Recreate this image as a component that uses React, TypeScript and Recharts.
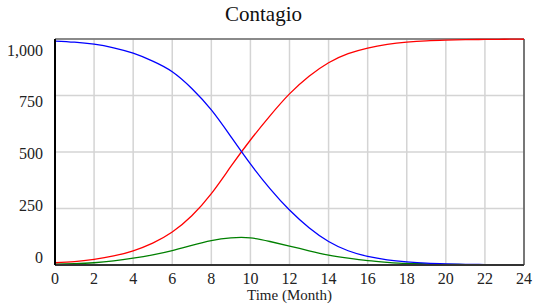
import React from "react";
import {
  LineChart,
  Line,
  XAxis,
  YAxis,
  CartesianGrid,
  ReferenceLine,
} from "recharts";

const months = [0, 1, 2, 3, 4, 5, 6, 7, 8, 9, 10, 11, 12, 13, 14, 15, 16, 17, 18, 19, 20, 21, 22, 23, 24];
// blue: susceptible population
const susceptible = [991, 986, 977, 961, 937, 902, 855, 781, 686, 568, 447, 338, 243, 165, 104, 63, 38, 23, 14, 8, 5, 3, 2, 1, 1];
// red: infected (cumulative)
const infected = [10, 15, 25, 40, 63, 97, 146, 218, 316, 436, 553, 660, 757, 835, 895, 935, 960, 976, 986, 992, 995, 997, 998, 999, 999];
// green: contagion rate
const contagion = [4, 6, 10, 18, 30, 45, 64, 87, 108, 120, 120, 104, 84, 63, 44, 30, 19, 12, 7, 5, 3, 2, 1, 1, 0];

const xTicks = [0, 2, 4, 6, 8, 10, 12, 14, 16, 18, 20, 22, 24];
const yTicks = [0, 250, 500, 750, 1000];

const data = months.map((m, i) => ({
  t: m,
  s: susceptible[i],
  inf: infected[i],
  c: contagion[i],
}));

const FONT = "'Liberation Serif', 'DejaVu Serif', 'Times New Roman', serif";
const PLOT_TOP = 39;
const PLOT_BOTTOM = 265;
const PLOT_LEFT = 55;
const PLOT_RIGHT = 524;

// Vensim-style: labels spread slightly inside the plot box
function YTick(props: any) {
  const { x, y, payload } = props;
  const ratio = (y - PLOT_TOP) / (PLOT_BOTTOM - PLOT_TOP);
  const ly = PLOT_TOP + 11 + ratio * (PLOT_BOTTOM - PLOT_TOP - 19);
  return (
    <text
      x={x - 4}
      y={ly}
      dy="0.35em"
      textAnchor="end"
      fill="#222"
      fontSize={16}
      fontFamily="Liberation Serif"
    >
      {payload.value.toLocaleString("en-US")}
    </text>
  );
}

function XTick(props: any) {
  const { x, y, payload } = props;
  return (
    <text
      x={x}
      y={y}
      dy="0.71em"
      textAnchor="middle"
      fill="#222"
      fontSize={16}
      fontFamily="Liberation Serif"
    >
      {payload.value}
    </text>
  );
}

export default function App() {
  return (
    <div
      style={{
        position: "absolute",
        left: 0,
        top: 0,
        width: 533,
        height: 305,
        background: "#fff",
        fontFamily: FONT,
      }}
    >
      <div
        style={{
          position: "absolute",
          left: 0,
          top: 2,
          width: 527,
          textAlign: "center",
          fontSize: 21,
          color: "#111",
        }}
      >
        Contagio
      </div>
      <div
        style={{
          position: "absolute",
          left: PLOT_LEFT,
          width: PLOT_RIGHT - PLOT_LEFT,
          top: 287,
          textAlign: "center",
          fontSize: 15,
          lineHeight: "17px",
          color: "#222",
        }}
      >
        Time (Month)
      </div>
      <LineChart
        width={533}
        height={305}
        data={data}
        margin={{ top: PLOT_TOP, right: 533 - PLOT_RIGHT, bottom: 0, left: 0 }}
      >
        <CartesianGrid stroke="#d4d4d4" strokeWidth={1.5} />
        <XAxis
          dataKey="t"
          type="number"
          domain={[0, 24]}
          ticks={xTicks}
          height={305 - PLOT_BOTTOM}
          tickLine={false}
          axisLine={{ stroke: "#333", strokeWidth: 2 }}
          tick={<XTick />}
        />
        <YAxis
          type="number"
          domain={[0, 1000]}
          ticks={yTicks}
          width={PLOT_LEFT}
          tickLine={false}
          axisLine={{ stroke: "#000", strokeWidth: 2 }}
          tick={<YTick />}
        />
        <ReferenceLine y={1000} stroke="#6e6e6e" strokeWidth={1.5} />
        <ReferenceLine x={24} stroke="#555" strokeWidth={1.5} />
        <Line
          dataKey="c"
          type="natural"
          stroke="#008000"
          strokeWidth={1.3}
          dot={false}
          isAnimationActive={false}
        />
        <Line
          dataKey="inf"
          type="natural"
          stroke="#ff0000"
          strokeWidth={1.3}
          dot={false}
          isAnimationActive={false}
        />
        <Line
          dataKey="s"
          type="natural"
          stroke="#0000ff"
          strokeWidth={1.3}
          dot={false}
          isAnimationActive={false}
        />
      </LineChart>
    </div>
  );
}
